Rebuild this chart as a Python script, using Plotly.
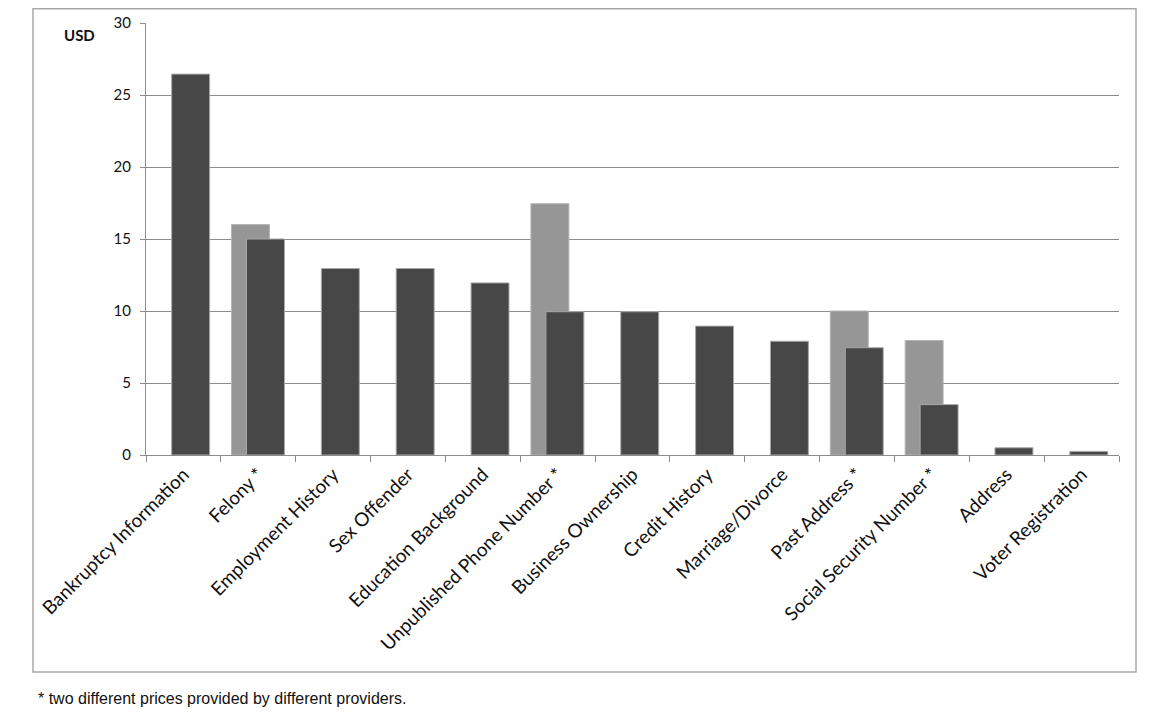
import plotly.graph_objects as go

categories = [
    "Bankruptcy Information", "Felony *", "Employment History", "Sex Offender",
    "Education Background", "Unpublished Phone Number *", "Business Ownership",
    "Credit History", "Marriage/Divorce", "Past Address *",
    "Social Security Number *", "Address", "Voter Registration",
]
price_alt = [None, 16, None, None, None, 17.45, None, None, None, 10, 7.95, None, None]
price_main = [26.45, 15, 12.95, 12.95, 11.95, 9.95, 9.95, 8.95, 7.9, 7.45, 3.5, 0.5, 0.25]
y_ticks = [0, 5, 10, 15, 20, 25, 30]

# the page adds an 8px body margin; figure coordinates below are page coords - 8
OFF = 8
W, H = 1166 - 2 * OFF, 718 - 2 * OFF
L, R, T, B = 146 - OFF, 1119 - OFF, 23 - OFF, 455 - OFF
pw, ph = R - L, B - T

def px(x):
    return (x - OFF - L) / pw

def py(y):
    return (B - (y - OFF)) / ph

fig = go.Figure()
fig.add_trace(go.Bar(
    x=categories, y=price_alt, offset=-0.357, width=0.507,
    marker=dict(color="#969696", line=dict(color="#b4b4b4", width=1)),
    showlegend=False, hoverinfo="x+y",
))
fig.add_trace(go.Bar(
    x=categories, y=price_main, offset=-0.157, width=0.507,
    marker=dict(color="#474747", line=dict(color="#a8a8a8", width=1)),
    showlegend=False, hoverinfo="x+y",
))

fig.update_layout(
    width=W, height=H,
    margin=dict(l=L, r=W - R, t=T, b=H - B, autoexpand=False),
    paper_bgcolor="white", plot_bgcolor="white",
    barmode="overlay",
    font=dict(family="Lato, Carlito, sans-serif", color="#1a1a1a"),
    xaxis=dict(
        type="category", tickangle=-45, tickson="boundaries",
        ticks="outside", ticklen=6, tickcolor="#8c8c8c", tickwidth=1,
        showline=True, linecolor="#8c8c8c", linewidth=1,
        showgrid=False, tickfont=dict(size=19, family="Lato, sans-serif", color="#111"),
        range=[-0.5, len(categories) - 0.5], fixedrange=True,
    ),
    yaxis=dict(
        range=[0, 30], tickvals=y_ticks, ticks="outside", ticklen=5,
        tickcolor="#8c8c8c", tickwidth=1, ticklabelstandoff=6,
        showline=True, linecolor="#8c8c8c", linewidth=1,
        showgrid=True, gridcolor="#8c8c8c", gridwidth=1,
        zeroline=False, tickfont=dict(size=15, family="Lato, sans-serif", color="#111"),
        fixedrange=True,
    ),
)

# outer chart frame
fig.add_shape(type="rect", xref="paper", yref="paper",
              x0=px(33), x1=px(1136), y0=py(672), y1=py(8.8),
              line=dict(color="#a8a8a8", width=1.5), fillcolor="rgba(0,0,0,0)",
              layer="below")

fig.add_annotation(text="<b>USD</b>", xref="paper", yref="paper",
                   x=px(79), y=py(35), xanchor="center", yanchor="middle",
                   showarrow=False, font=dict(size=15, family="Lato, sans-serif", color="#111"))

fig.add_annotation(text="* two different prices provided by different providers.",
                   xref="paper", yref="paper", x=px(36), y=py(709),
                   xanchor="left", yanchor="bottom", showarrow=False,
                   font=dict(size=16, family="Liberation Sans, Arial, sans-serif", color="#111"))

fig.write_html("out.html")
